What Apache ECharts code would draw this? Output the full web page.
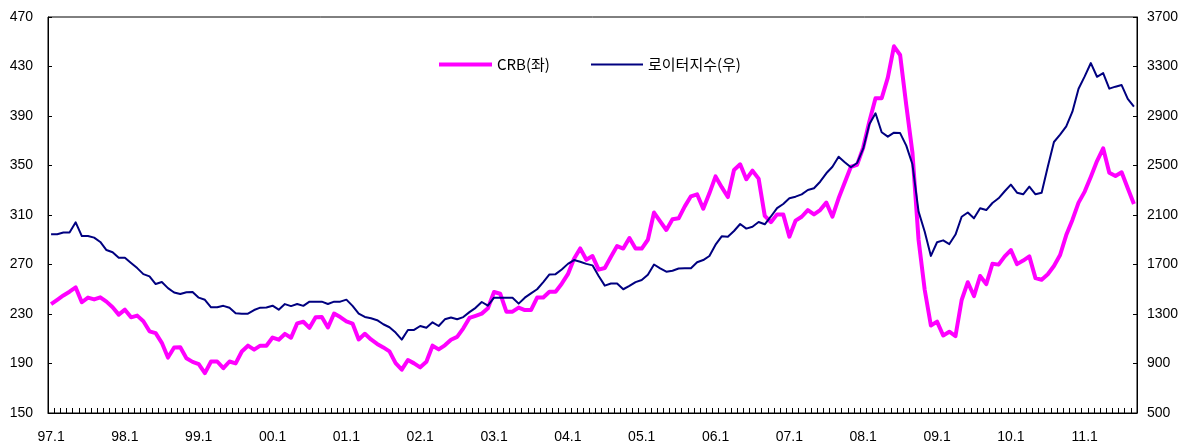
<!DOCTYPE html>
<html>
<head>
<meta charset="utf-8">
<script src="https://cdn.jsdelivr.net/npm/echarts@6/dist/echarts.min.js"></script>
<style>
html,body{margin:0;padding:0;background:#fff;}
#chart{width:1188px;height:447px;}
</style>
</head>
<body>
<div id="chart"></div>
<script>
// Months from 97.1 to 11.9
const startYear = 1997, startMonth = 1, monthCount = 177;
const months = [];
for (let k = 0; k < monthCount; k++) {
  const m = (startMonth - 1 + k) % 12 + 1;
  const y = startYear + Math.floor((startMonth - 1 + k) / 12);
  months.push(String(y % 100).padStart(2, '0') + '.' + m);
}

const seriesNames = ['CRB(좌)', '로이터지수(우)'];

// CRB index (left axis)
const crb = [
  238, 241.5, 245, 248, 251.5, 239.5, 243.3, 241.8, 243.5, 240, 235.5, 229.5,
  233.5, 227.3, 228.7, 224.2, 216, 214.5, 206.7, 194.8, 202.9, 203.2, 194.3, 191.3,
  189.5, 182.2, 191.6, 191.6, 186.2, 191.6, 190.1, 199.7, 204.4, 201.2, 204.4, 204.4,
  211, 209.2, 213.9, 210.8, 222.4, 223.7, 218.8, 227.4, 227.5, 219.1, 230.4, 227.5,
  224.1, 222.3, 209.4, 214, 209.4, 205.8, 203, 199.8, 190.3, 185, 192.8, 190.1,
  186.9, 191.4, 204.4, 201.4, 204.7, 209.2, 211.5, 218.4, 226.8, 228.5, 230.3, 234.6,
  247.8, 246.4, 231.9, 231.9, 235.2, 233.2, 233.2, 243.3, 243.3, 248, 248, 254.5,
  262.2, 274.7, 283, 273.8, 276.8, 265.8, 267.2, 276.3, 284.9, 282.9, 291.4, 282.9,
  282.9, 290, 312, 304.8, 297.9, 306.6, 307.3, 317, 325.1, 326.7, 315.1, 327.5,
  341.2, 332.5, 324.5, 346.4, 351, 338.9, 345.8, 339.4, 309.3, 304.2, 310.5, 310.5,
  292.5, 305.4, 308.6, 314, 310.5, 314, 320, 308.6, 323.5, 336.2, 349, 350.5,
  364.5, 385.5, 404.3, 404.3, 421, 446.3, 439.3, 398.7, 360.5, 289.8, 249.4, 220.7,
  223.8, 212.6, 215.7, 212.2, 241.3, 255.7, 244.5, 260.7, 254.2, 270.6, 269.9, 276.6,
  281.7, 270.3, 273.2, 276.6, 259, 257.7, 262.1, 268.8, 277.7, 293.8, 306, 320,
  328.9, 341, 353.6, 363.9, 344.2, 341.5, 344.5, 331.6, 318.9
];

// Reuters index (right axis)
const reuters = [
  1945, 1945, 1958, 1958, 2041, 1930, 1930, 1917, 1882, 1817, 1799, 1754,
  1754, 1712, 1671, 1622, 1604, 1542, 1558, 1509, 1474, 1461, 1476, 1478,
  1432, 1415, 1354, 1354, 1366, 1350, 1306, 1303, 1303, 1332, 1351, 1353,
  1367, 1335, 1380, 1364, 1381, 1366, 1400, 1400, 1400, 1381, 1400, 1400,
  1416, 1366, 1303, 1276, 1265, 1250, 1217, 1193, 1150, 1093, 1171, 1171,
  1203, 1189, 1233, 1203, 1257, 1272, 1258, 1275, 1315, 1350, 1397, 1367,
  1432, 1432, 1432, 1432, 1384, 1432, 1467, 1500, 1558, 1620, 1622, 1660,
  1705, 1736, 1722, 1705, 1693, 1607, 1529, 1546, 1546, 1500, 1527, 1558,
  1575, 1617, 1700, 1668, 1642, 1650, 1668, 1670, 1670, 1718, 1736, 1769,
  1860, 1928, 1925, 1971, 2027, 1990, 2005, 2043, 2025, 2088, 2155, 2189,
  2235, 2248, 2267, 2302, 2316, 2369, 2437, 2490, 2571, 2527, 2486, 2520,
  2636, 2834, 2922, 2769, 2733, 2765, 2762, 2661, 2510, 2127, 1965, 1769,
  1880, 1895, 1865, 1942, 2086, 2120, 2073, 2154, 2140, 2197, 2235, 2292,
  2345, 2280, 2267, 2329, 2267, 2280, 2490, 2690, 2749, 2816, 2935, 3120,
  3220, 3328, 3217, 3247, 3121, 3137, 3150, 3039, 2975
];

const leftAxis = {min: 150, max: 470, interval: 40};
const rightAxis = {min: 500, max: 3700, interval: 400};

const numFont = '"Liberation Sans", Arial, sans-serif';
const krFont = '"Noto Sans CJK KR", "Liberation Sans", sans-serif';

const chart = echarts.init(document.getElementById('chart'), null, {renderer: 'canvas'});
chart.setOption({
  animation: false,
  backgroundColor: '#ffffff',
  grid: {left: 48, right: 51, top: 17, bottom: 34, show: true, borderColor: '#000', borderWidth: 1},
  legend: [
    {
      data: [{name: seriesNames[0], icon: 'rect'}],
      left: 434, top: 52, itemWidth: 53, itemHeight: 4, itemGap: 0,
      textStyle: {fontFamily: krFont, fontSize: 15, color: '#000'}
    },
    {
      data: [{name: seriesNames[1], icon: 'rect'}],
      left: 586, top: 52, itemWidth: 52, itemHeight: 2, itemGap: 0,
      textStyle: {fontFamily: krFont, fontSize: 15, color: '#000'}
    }
  ],
  xAxis: {
    type: 'category',
    data: months,
    boundaryGap: true,
    axisLine: {lineStyle: {color: '#000', width: 1}},
    axisTick: {show: true, inside: true, length: 5, interval: 0, lineStyle: {color: '#000'}},
    axisLabel: {interval: 11, margin: 17, color: '#000', fontSize: 14, fontFamily: numFont},
    splitLine: {show: false}
  },
  yAxis: [
    {
      type: 'value', position: 'left',
      min: leftAxis.min, max: leftAxis.max, interval: leftAxis.interval,
      axisLine: {show: true, lineStyle: {color: '#000', width: 1}},
      axisTick: {show: true, inside: true, length: 4, lineStyle: {color: '#000'}},
      axisLabel: {margin: 15, color: '#000', fontSize: 14, fontFamily: numFont,
        formatter: v => String(v)},
      splitLine: {show: false}
    },
    {
      type: 'value', position: 'right',
      min: rightAxis.min, max: rightAxis.max, interval: rightAxis.interval,
      axisLine: {show: true, lineStyle: {color: '#000', width: 1}},
      axisTick: {show: true, inside: true, length: 4, lineStyle: {color: '#000'}},
      axisLabel: {margin: 10, color: '#000', fontSize: 14, fontFamily: numFont,
        formatter: v => String(v)},
      splitLine: {show: false}
    }
  ],
  series: [
    {
      name: seriesNames[0], type: 'line', yAxisIndex: 0, data: crb,
      symbol: 'none', lineStyle: {color: '#FF00FF', width: 4, join: 'round'},
      itemStyle: {color: '#FF00FF'}, z: 2
    },
    {
      name: seriesNames[1], type: 'line', yAxisIndex: 1, data: reuters,
      symbol: 'none', lineStyle: {color: '#000080', width: 2, join: 'round'},
      itemStyle: {color: '#000080'}, z: 3
    }
  ]
});
</script>
</body>
</html>
